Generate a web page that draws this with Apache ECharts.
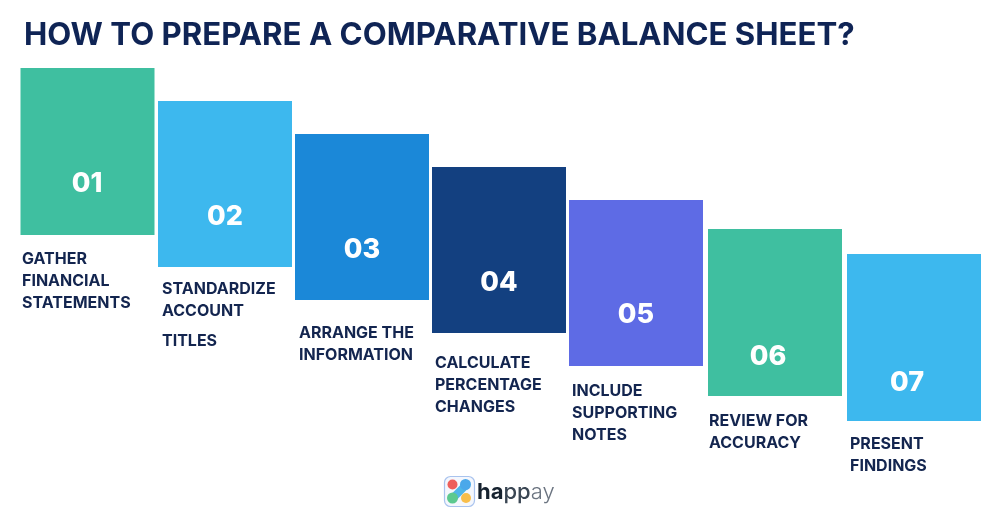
<!DOCTYPE html>
<html>
<head>
<meta charset="utf-8">
<style>html,body{margin:0;padding:0;background:#fff}#chart{width:1000px;height:521px}</style>
<script src="https://cdn.jsdelivr.net/npm/echarts@6/dist/echarts.min.js"></script>
</head>
<body>
<div id="chart"></div>
<script>
// steps (both axes run in picture units)
var stepNumbers = ["01", "02", "03", "04", "05", "06", "07"];
var stepCentre = [87.5, 225, 362, 499, 636, 775, 914];
var stepDrop = [68, 101, 134, 167, 200, 229, 254];
var stepHeight = [167, 166, 166, 166, 166, 167, 167];
var stepColors = ["#3FBFA0", "#3DB8EE", "#1B88D8", "#134080", "#5E6BE5", "#3FBFA0", "#3DB8EE"];
var numberX = [87, 225, 362, 499, 636, 768, 907];
var numberY = [184, 217, 250, 283, 315, 357, 383];
var captions = ["GATHER\nFINANCIAL\nSTATEMENTS", "STANDARDIZE\nACCOUNT", "TITLES", "ARRANGE THE\nINFORMATION",
    "CALCULATE\nPERCENTAGE\nCHANGES", "INCLUDE\nSUPPORTING\nNOTES", "REVIEW FOR\nACCURACY", "PRESENT\nFINDINGS"];
var captionX = [22, 162, 162, 299, 435, 572, 709, 850];
var captionY = [248, 278, 330, 322, 352, 380, 410, 433];

function pairs(xs, ys) {
    return xs.map(function (x, i) { return [x, ys[i]]; });
}

function renderStep(params, api) {
    // value: centre, drop, height
    var width = api.size([134, 0])[0];
    var topLeft = api.coord([api.value(0), api.value(1)]);
    var bottom = api.coord([api.value(0), api.value(1) + api.value(2)]);
    return {
        type: "rect",
        shape: { x: topLeft[0] - width / 2, y: topLeft[1], width: width, height: bottom[1] - topLeft[1] },
        style: { fill: stepColors[params.dataIndex] }
    };
}

var chart = echarts.init(document.getElementById("chart"));
chart.setOption({
    backgroundColor: "#fff",
    animation: false,
    textStyle: { fontFamily: "Inter" },
    grid: { left: 0, right: 0, top: 0, bottom: 0 },
    xAxis: { type: "value", min: 0, max: 1000, show: false },
    yAxis: { type: "value", min: 0, max: 521, inverse: true, show: false },
    title: {
        text: "HOW TO PREPARE A COMPARATIVE BALANCE SHEET?",
        left: 19, top: 15,
        textStyle: { fontFamily: "Inter", fontWeight: 700, fontSize: 31.2, color: "#0F2455" }
    },
    series: [
        {
            type: "custom", silent: true, renderItem: renderStep,
            data: stepCentre.map(function (x, i) { return [x, stepDrop[i], stepHeight[i]]; })
        },
        {
            type: "scatter", symbolSize: 0, silent: true, itemStyle: { opacity: 1 },
            label: {
                show: true, position: "inside", color: "#fff",
                fontFamily: "Inter", fontWeight: 800, fontSize: 27,
                formatter: function (p) { return stepNumbers[p.dataIndex]; }
            },
            data: pairs(numberX, numberY)
        },
        {
            type: "scatter", symbolSize: 0, silent: true, itemStyle: { opacity: 1 },
            label: {
                show: true, position: "right", distance: 0, align: "left", verticalAlign: "top",
                color: "#13254F", fontFamily: "Inter", fontWeight: 700, fontSize: 16, lineHeight: 22,
                formatter: function (p) { return captions[p.dataIndex]; }
            },
            data: pairs(captionX, captionY)
        }
    ],
    graphic: [
        // logo
        { type: "rect", shape: { x: 444.5, y: 476.5, width: 30, height: 30, r: 6 }, style: { fill: "#F4F7FD", stroke: "#A9C3EE", lineWidth: 1.2 } },
        { type: "line", shape: { x1: 453, y1: 498, x2: 466, y2: 485 }, style: { stroke: "#4FB6E8", lineWidth: 8, lineCap: "round" } },
        { type: "circle", shape: { cx: 452.5, cy: 484.5, r: 5 }, style: { fill: "#EE5F5B" } },
        { type: "circle", shape: { cx: 465.5, cy: 484.5, r: 5.5 }, style: { fill: "#4AA8EA" } },
        { type: "circle", shape: { cx: 452.5, cy: 498, r: 5.5 }, style: { fill: "#5CC98F" } },
        { type: "circle", shape: { cx: 466, cy: 498, r: 5 }, style: { fill: "#F8BE4B" } },
        {
            type: "text", x: 477, y: 481,
            style: {
                text: "{a|ha}{b|pp}{c|ay}",
                rich: {
                    a: { fontFamily: "Inter", fontWeight: 700, fontSize: 22, fill: "#16222F", color: "#16222F" },
                    b: { fontFamily: "Inter", fontWeight: 500, fontSize: 22, fill: "#3A4653", color: "#3A4653" },
                    c: { fontFamily: "Inter", fontWeight: 300, fontSize: 22, fill: "#6B7480", color: "#6B7480" }
                }
            }
        }
    ]
});
</script>
</body>
</html>
